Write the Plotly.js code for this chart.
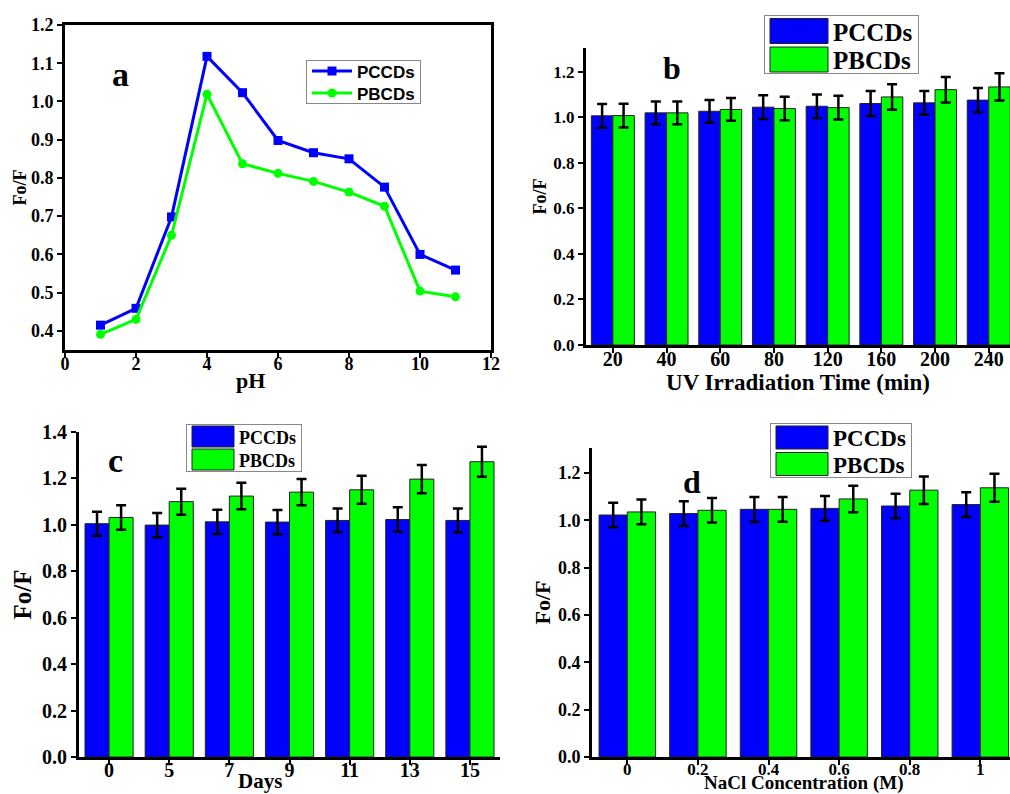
<!DOCTYPE html>
<html>
<head>
<meta charset="utf-8">
<script src="https://cdn.plot.ly/plotly-3.0.1.min.js"></script>
<style>html,body{margin:0;padding:0;background:#fff;}#chart{width:1010px;height:794px;}</style>
</head>
<body>
<div id="chart"></div>
<script>
// ---------- data ----------
const seriesNames = ['PCCDs', 'PBCDs'];

// (a) pH
const phValues = [1, 2, 3, 4, 5, 6, 7, 8, 9, 10, 11];
const phPCCDs = [0.415, 0.459, 0.698, 1.118, 1.023, 0.898, 0.866, 0.850, 0.776, 0.600, 0.559];
const phPBCDs = [0.391, 0.430, 0.650, 1.019, 0.837, 0.812, 0.791, 0.763, 0.726, 0.504, 0.489];

// (b) UV irradiation time
const uvTimes = ['20', '40', '60', '80', '120', '160', '200', '240'];
const uvPCCDs = [1.007, 1.020, 1.027, 1.045, 1.049, 1.061, 1.064, 1.076];
const uvPBCDs = [1.008, 1.020, 1.035, 1.039, 1.043, 1.090, 1.122, 1.134];
const uvErrPCCDs = [0.052, 0.050, 0.050, 0.052, 0.052, 0.055, 0.052, 0.053];
const uvErrPBCDs = [0.052, 0.050, 0.050, 0.052, 0.052, 0.056, 0.056, 0.060];

// (c) Days
const days = ['0', '5', '7', '9', '11', '13', '15'];
const dayPCCDs = [1.005, 0.999, 1.013, 1.012, 1.019, 1.023, 1.019];
const dayPBCDs = [1.032, 1.100, 1.124, 1.141, 1.151, 1.197, 1.272];
const dayErrPCCDs = [0.052, 0.052, 0.052, 0.052, 0.051, 0.053, 0.051];
const dayErrPBCDs = [0.053, 0.056, 0.057, 0.057, 0.060, 0.061, 0.065];

// (d) NaCl concentration
const naclConc = ['0', '0.2', '0.4', '0.6', '0.8', '1'];
const naclPCCDs = [1.022, 1.028, 1.046, 1.050, 1.060, 1.066];
const naclPBCDs = [1.035, 1.042, 1.046, 1.090, 1.127, 1.137];
const naclErrPCCDs = [0.052, 0.052, 0.052, 0.052, 0.052, 0.052];
const naclErrPBCDs = [0.052, 0.052, 0.052, 0.056, 0.058, 0.059];

// ---------- styling ----------
const BLUE = '#0000ff', GREEN = '#00ff00';
const SERIF = 'Liberation Serif', SANS = 'Liberation Sans';
const W = 1010, H = 794;
const px = v => v / W, py = v => 1 - v / H;

function errBar(arr) {
  return {type: 'data', array: arr, visible: true, color: '#000', thickness: 2.5, width: 5};
}
function barTrace(name, x, y, err, color, xa, ya, leg) {
  return {
    type: 'bar', name: name, x: x, y: y, xaxis: xa, yaxis: ya, legend: leg,
    marker: {color: color, line: {color: '#222', width: 1}},
    error_y: errBar(err), hoverinfo: 'x+y'
  };
}

const traces = [
  {type: 'scatter', mode: 'lines+markers', name: seriesNames[0], x: phValues, y: phPCCDs,
   xaxis: 'x', yaxis: 'y', legend: 'legend',
   line: {color: BLUE, width: 3}, marker: {symbol: 'square', size: 9, color: BLUE}},
  {type: 'scatter', mode: 'lines+markers', name: seriesNames[1], x: phValues, y: phPBCDs,
   xaxis: 'x', yaxis: 'y', legend: 'legend',
   line: {color: GREEN, width: 3}, marker: {symbol: 'circle', size: 9, color: GREEN}},
  barTrace(seriesNames[0], uvTimes, uvPCCDs, uvErrPCCDs, BLUE, 'x2', 'y2', 'legend2'),
  barTrace(seriesNames[1], uvTimes, uvPBCDs, uvErrPBCDs, GREEN, 'x2', 'y2', 'legend2'),
  barTrace(seriesNames[0], days, dayPCCDs, dayErrPCCDs, BLUE, 'x3', 'y3', 'legend3'),
  barTrace(seriesNames[1], days, dayPBCDs, dayErrPBCDs, GREEN, 'x3', 'y3', 'legend3'),
  barTrace(seriesNames[0], naclConc, naclPCCDs, naclErrPCCDs, BLUE, 'x4', 'y4', 'legend4'),
  barTrace(seriesNames[1], naclConc, naclPBCDs, naclErrPBCDs, GREEN, 'x4', 'y4', 'legend4')
];

function tf(size) { return {family: SERIF, size: size, weight: 'bold', color: '#000'}; }
function axis(extra) {
  return Object.assign({
    showline: true, linewidth: 3, linecolor: '#000',
    ticks: 'outside', ticklen: 5, tickwidth: 2, tickcolor: '#000',
    showgrid: false, zeroline: false, automargin: false
  }, extra);
}
function title(text, size, standoff) {
  return {text: text, standoff: standoff, font: tf(size)};
}
function legendCfg(x, y, size, family, itemwidth) {
  return {x: px(x), y: py(y), xanchor: 'left', yanchor: 'top', bgcolor: '#fff',
          bordercolor: '#888', borderwidth: 1, itemwidth: itemwidth,
          font: {family: family, size: size, weight: 'bold', color: '#000'}};
}
function label(text, x, y, size) {
  return {text: text, xref: 'paper', yref: 'paper', x: px(x), y: py(y), xanchor: 'center', yanchor: 'middle',
          showarrow: false, font: tf(size)};
}

const layout = {
  width: W, height: H, margin: {l: 0, r: 0, t: 0, b: 0},
  paper_bgcolor: '#fff', plot_bgcolor: '#fff',
  barmode: 'group', bargap: 0.2, bargroupgap: 0,
  showlegend: true,
  font: {family: SERIF, color: '#000'},
  // (a)
  xaxis: axis({domain: [px(65), px(491)], anchor: 'y', range: [0, 12], dtick: 2, mirror: true,
               tickfont: tf(18), ticklabelstandoff: -10}),
  yaxis: axis({domain: [py(350), py(25)], anchor: 'x', range: [0.35, 1.2], dtick: 0.1, tickformat: '.1f', mirror: true,
               tickfont: tf(18), title: title('Fo/F', 18, 0)}),
  // (b)
  xaxis2: axis({domain: [px(586), 1], anchor: 'y2', type: 'category', range: [-0.5, 7.396],
                tickfont: tf(20), ticklabelstandoff: -11, title: title('UV Irradiation Time (min)', 23, 0)}),
  yaxis2: axis({domain: [py(345), py(48)], anchor: 'x2', range: [0, 1.305], dtick: 0.2, tickformat: '.1f',
                tickfont: tf(17), title: title('Fo/F', 18, 3)}),
  // (c)
  xaxis3: axis({domain: [px(79), px(500)], anchor: 'y3', type: 'category', range: [-0.5, 6.5],
                tickfont: tf(20), ticklabelstandoff: -12}),
  yaxis3: axis({domain: [py(757), py(432)], anchor: 'x3', range: [0, 1.4], dtick: 0.2, tickformat: '.1f',
                tickfont: tf(20), title: title('Fo/F', 25, 4)}),
  // (d)
  xaxis4: axis({domain: [px(592), 1], anchor: 'y4', type: 'category', range: [-0.5, 5.42],
                tickfont: tf(17), ticklabelstandoff: -10}),
  yaxis4: axis({domain: [py(757), py(448)], anchor: 'x4', range: [0, 1.305], dtick: 0.2, tickformat: '.1f',
                tickfont: tf(18), title: title('Fo/F', 22, 2)}),
  legend: legendCfg(306, 60, 17, SANS, 40),
  legend2: legendCfg(764, 15, 25, SERIF, 58),
  legend3: legendCfg(186, 424, 18, SERIF, 42),
  legend4: legendCfg(770, 423, 23, SERIF, 52),
  annotations: [
    label('a', 120, 75, 34),
    label('b', 672, 68, 32),
    label('c', 115, 460, 34),
    label('d', 692, 482, 32),
    label('pH', 250, 380, 22),
    label('Days', 260, 781, 21),
    label('NaCl Concentration (M)', 803, 783, 19)
  ]
};

// legend look of the reference: big colour blocks and tight rows
// first: centre of first row below the box top, spacing between rows, total box height
const legendLook = {
  legend:  {first: 11,   spacing: 22,   height: 44},
  legend2: {first: 16,   spacing: 28.5, height: 59, sw: [58, 25]},
  legend3: {first: 12.5, spacing: 23,   height: 48, sw: [42, 21]},
  legend4: {first: 14.5, spacing: 26.5, height: 55, sw: [52, 23]}
};
function parseT(t) {
  const m = /translate\(\s*([-\d.e]+)[ ,]+([-\d.e]+)\s*\)/.exec(t || '');
  return m ? [parseFloat(m[1]), parseFloat(m[2])] : null;
}
function restyleLegends() {
  Object.keys(legendLook).forEach(function (id) {
    const cfg = legendLook[id];
    const g = document.querySelector('g.' + id);
    if (!g) return;
    if (cfg.sw) {
      const w = cfg.sw[0] / 2, h = cfg.sw[1] / 2;
      g.querySelectorAll('g.legendpoints path').forEach(function (p) {
        p.setAttribute('d', 'M' + w + ',' + h + 'H' + (-w) + 'V' + (-h) + 'H' + w + 'Z');
      });
    }
    const items = Array.from(g.querySelectorAll('g.traces'));
    items.forEach(function (it, i) {
      const t = parseT(it.getAttribute('transform'));
      if (!t) return;
      it.setAttribute('transform', 'translate(' + t[0] + ',' + (cfg.first + i * cfg.spacing) + ')');
    });
    const bg = g.querySelector('rect.bg');
    if (bg) bg.setAttribute('height', cfg.height - 1);
  });
}

Plotly.newPlot('chart', traces, layout, {displayModeBar: false, staticPlot: true}).then(restyleLegends);
</script>
</body>
</html>
